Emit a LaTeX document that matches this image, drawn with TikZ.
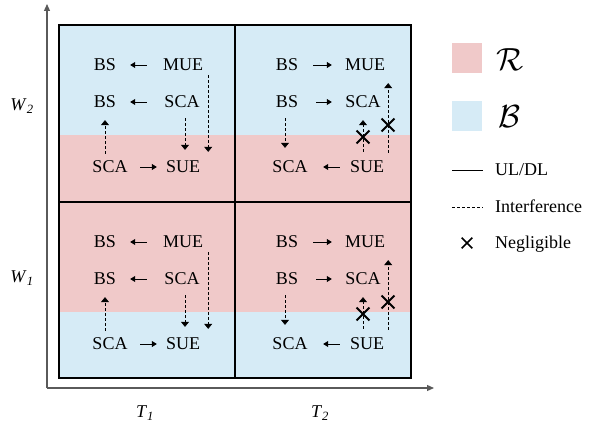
\documentclass[tikz,border=0pt]{standalone}
\usepackage{fontspec}
\setmainfont{Liberation Serif}
\usetikzlibrary{arrows.meta,shapes.misc,calc}
\definecolor{pinkR}{RGB}{240,201,201}
\definecolor{blueB}{RGB}{214,235,246}
\definecolor{axisgray}{RGB}{90,90,90}
\begin{document}
\begin{tikzpicture}[x=1pt,y=-1pt,
  lbl/.style={font=\fontsize{18}{18}\selectfont, inner sep=0pt, text height=11.9pt, text depth=0pt},
  ul/.style={-{Triangle[length=5pt,width=6pt]}, line width=0.7pt},
  intf/.style={-{Triangle[length=5pt,width=8pt]}, line width=0.6pt, dash pattern=on 3pt off 2pt},
  negl/.style={cross out, draw, line width=1.8pt, minimum size=11pt, inner sep=0pt},
  gridline/.style={line width=1.6pt},
  axisline/.style={line width=1.2pt, draw=axisgray, -{Triangle[length=7pt,width=6pt]}},
  swatch/.style={minimum width=30pt, minimum height=30pt, inner sep=0pt}
]
\useasboundingbox (0,0) rectangle (602,433);
% backgrounds
\fill[blueB] (59,25) rectangle (411,135);
\fill[pinkR] (59,135) rectangle (411,202);
\fill[pinkR] (59,202) rectangle (411,312);
\fill[blueB] (59,312) rectangle (411,378);
\draw[gridline] (59,25) rectangle (411,378);
\draw[gridline] (235,25) -- (235,378);
\draw[gridline] (59,202) -- (411,202);
% axes
\coordinate (o) at (47,388);
\coordinate (ytip) at (47,4);
\coordinate (xtip) at (434,388);
\draw[axisline] (o) -- (ytip);
\draw[axisline] (o) -- (xtip);
\node[lbl] (w2) at (22,105) {\textit{W}\textsubscript{\textit{2}}};
\node[lbl] (w1) at (22,277) {\textit{W}\textsubscript{\textit{1}}};
\node[lbl] (t1) at (145,412) {\textit{T}\textsubscript{\textit{1}}};
\node[lbl] (t2) at (320,412) {\textit{T}\textsubscript{\textit{2}}};
% cells
\foreach \s/\p in {0/a,177/b}{
  % left cell
  \node[lbl] (\p-lbs1) at (105,{65+\s}) {BS};
  \node[lbl] (\p-lmue) at (183,{65+\s}) {MUE};
  \node[lbl] (\p-lbs2) at (105,{102+\s}) {BS};
  \node[lbl] (\p-lsca2) at (182,{102+\s}) {SCA};
  \node[lbl] (\p-lsca3) at (110,{167+\s}) {SCA};
  \node[lbl] (\p-lsue) at (183,{167+\s}) {SUE};
  \draw[ul, shorten <=16pt, shorten >=14pt] (\p-lmue.west) -- (\p-lbs1.east);
  \draw[ul, shorten <=17.5pt, shorten >=14pt] (\p-lsca2.west) -- (\p-lbs2.east);
  \draw[ul, shorten <=12.5pt, shorten >=9pt] (\p-lsca3.east) -- (\p-lsue.west);
  \draw[intf, shorten <=7pt, shorten >=12pt] (\p-lbs2.south |- \p-lsca3.north) -- (\p-lbs2.south);
  \draw[intf, shorten <=10pt, shorten >=11pt] ([xshift=3pt]\p-lsca2.south) -- ([xshift=3pt]\p-lsca2.south |- \p-lsue.north);
  \draw[intf, shorten <=4pt, shorten >=9pt] ([xshift=5pt]\p-lmue.south east) -- ([xshift=5pt]\p-lmue.south east |- \p-lsue.north);
  % right cell
  \node[lbl] (\p-rbs1) at (287,{65+\s}) {BS};
  \node[lbl] (\p-rmue) at (365,{65+\s}) {MUE};
  \node[lbl] (\p-rbs2) at (287,{102+\s}) {BS};
  \node[lbl] (\p-rsca2) at (363,{102+\s}) {SCA};
  \node[lbl] (\p-rsca3) at (290,{167+\s}) {SCA};
  \node[lbl] (\p-rsue) at (367,{167+\s}) {SUE};
  \draw[ul, shorten <=15pt, shorten >=13pt] (\p-rbs1.east) -- (\p-rmue.west);
  \draw[ul, shorten <=18pt, shorten >=13.5pt] (\p-rbs2.east) -- (\p-rsca2.west);
  \draw[ul, shorten <=10pt, shorten >=15.5pt] (\p-rsue.west) -- (\p-rsca3.east);
  \draw[intf, shorten <=10pt, shorten >=13pt] ([xshift=-2pt]\p-rbs2.south) -- ([xshift=-2pt]\p-rbs2.south |- \p-rsca3.north);
  \draw[intf, shorten <=9pt, shorten >=12pt] ([xshift=-4pt]\p-rsue.north) -- ([xshift=-4pt]\p-rsue.north |- \p-rsca2.south);
  \draw[intf, shorten <=8pt, shorten >=12pt] ([xshift=3pt]\p-rmue.south east |- \p-rsue.north) -- ([xshift=3pt]\p-rmue.south east);
  \node[negl] (\p-x1) at (363,{137+\s}) {};
  \node[negl] (\p-x2) at (388,{125+\s}) {};
}
% legend
\node[swatch, fill=pinkR] (swR) at (467,58) {};
\node[inner sep=0pt, scale=3.2] (symR) at (510,60) {$\mathcal{R}$};
\node[swatch, fill=blueB] (swB) at (467,116.5) {};
\node[inner sep=0pt, scale=3.2] (symB) at (509,117) {$\mathcal{B}$};
\coordinate (ulA) at (452,170);
\coordinate (ulB) at (483,170);
\draw[line width=0.7pt] (ulA) -- (ulB);
\node[lbl, anchor=west] (ulT) at (495,170) {UL/DL};
\coordinate (ifA) at (452,207);
\coordinate (ifB) at (483,207);
\draw[line width=0.6pt, dash pattern=on 3pt off 2pt] (ifA) -- (ifB);
\node[lbl, anchor=west] (ifT) at (495,207) {Interference};
\node[negl, minimum size=9pt, line width=1.6pt] (ngX) at (467,243) {};
\node[lbl, anchor=west] (ngT) at (495,243) {Negligible};
\end{tikzpicture}
\end{document}
